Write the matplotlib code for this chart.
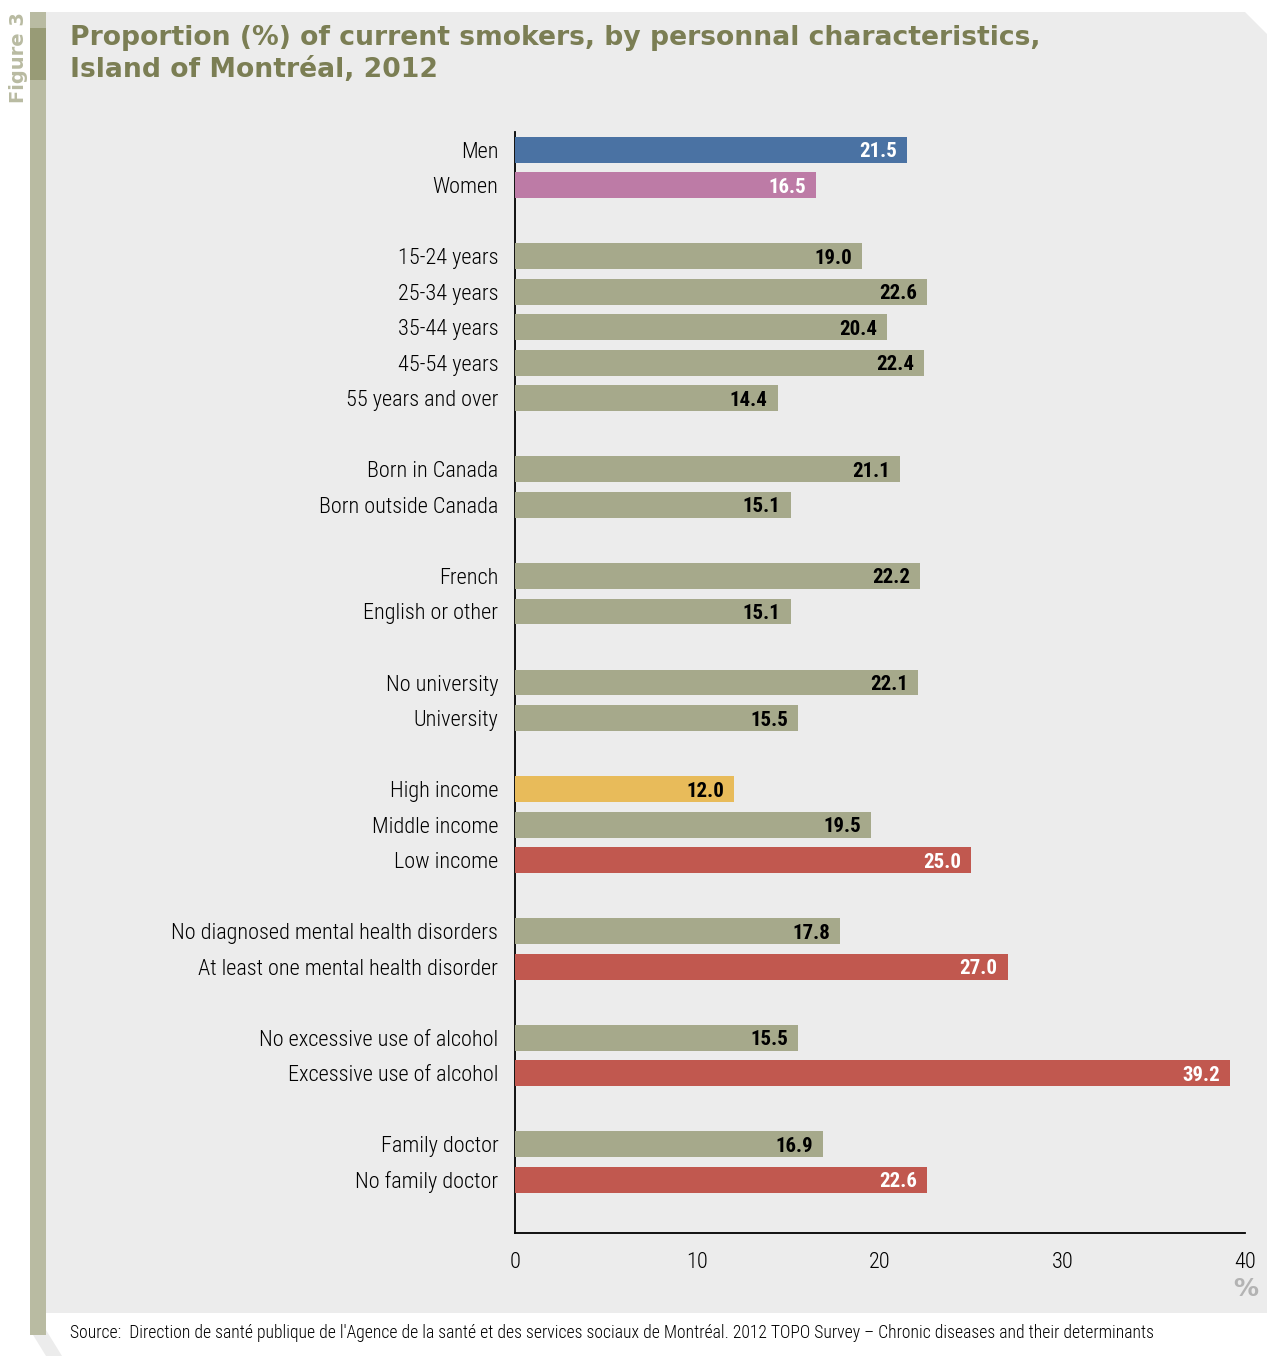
import matplotlib
matplotlib.use("Agg")
import matplotlib.pyplot as plt
from matplotlib import font_manager
from matplotlib.patches import Polygon, Rectangle

# Data
categories = [
    "Men", "Women",
    "15-24 years", "25-34 years", "35-44 years", "45-54 years", "55 years and over",
    "Born in Canada", "Born outside Canada",
    "French", "English or other",
    "No university", "University",
    "High income", "Middle income", "Low income",
    "No diagnosed mental health disorders", "At least one mental health disorder",
    "No excessive use of alcohol", "Excessive use of alcohol",
    "Family doctor", "No family doctor",
]
values = [
    21.5, 16.5,
    19.0, 22.6, 20.4, 22.4, 14.4,
    21.1, 15.1,
    22.2, 15.1,
    22.1, 15.5,
    12.0, 19.5, 25.0,
    17.8, 27.0,
    15.5, 39.2,
    16.9, 22.6,
]
group_sizes = [2, 5, 2, 2, 2, 3, 2, 2, 2]
bar_kinds = [
    "blue", "pink",
    "olive", "olive", "olive", "olive", "olive",
    "olive", "olive",
    "olive", "olive",
    "olive", "olive",
    "yellow", "olive", "red",
    "olive", "red",
    "olive", "red",
    "olive", "red",
]
x_ticks = [0, 10, 20, 30, 40]

colors = {
    "blue": "#4a72a3",
    "pink": "#bd7ba6",
    "olive": "#a6a98b",
    "yellow": "#e8bb5a",
    "red": "#c1584f",
}
label_colors = {"blue": "white", "pink": "white", "red": "white",
                "olive": "black", "yellow": "black"}

# pick a narrow font if one is installed
fonts = font_manager.fontManager.ttflist
names = {f.name for f in fonts}
narrow_kw = {"family": ["Roboto", "DejaVu Sans"]}
for cand in ["Liberation Sans Narrow", "Roboto Condensed", "Open Sans Condensed"]:
    if cand in names:
        narrow_kw = {"family": [cand, "DejaVu Sans"]}
        break
else:
    if any(f.name == "DejaVu Sans" and f.stretch == "condensed" for f in fonts):
        narrow_kw = {"family": ["DejaVu Sans"], "fontstretch": "condensed"}

# positions: one empty slot between groups
positions = []
slot = 0
for size in group_sizes:
    for i in range(size):
        positions.append(slot)
        slot += 1
    slot += 1

W, H = 1267, 1356
fig = plt.figure(figsize=(W / 100, H / 100), dpi=100)
fig.patch.set_facecolor("white")


def fx(x):
    return x / W


def fy(y):
    return 1 - y / H


# background panel with clipped corner
panel = Polygon(
    [(fx(30), fy(12)), (fx(1245), fy(12)), (fx(1267), fy(34)),
     (fx(1267), fy(1313)), (fx(30), fy(1313))],
    closed=True, transform=fig.transFigure, facecolor="#ececec", edgecolor="none", zorder=-3)
fig.patches.append(panel)
shadow = Polygon(
    [(fx(30), fy(1330)), (fx(46), fy(1330)), (fx(62), fy(1356)), (fx(46), fy(1356))],
    closed=True, transform=fig.transFigure, facecolor="#ececec", edgecolor="none", zorder=-3)
fig.patches.append(shadow)
strip = Polygon(
    [(fx(30), fy(12)), (fx(46), fy(12)), (fx(46), fy(1335)), (fx(30), fy(1335))],
    closed=True, transform=fig.transFigure, facecolor="#b9bba2", edgecolor="none", zorder=-2)
fig.patches.append(strip)
fig.patches.append(Rectangle((fx(30), fy(80)), fx(16), 52 / H, transform=fig.transFigure,
                             facecolor="#989b76", edgecolor="none", zorder=-1))

fig.text(fx(19), fy(58), "Figure 3", rotation=90, ha="center", va="center",
         fontsize=14, fontweight="bold", color="#b9bba2", family="DejaVu Sans")

title_font = "DejaVu Sans"
fig.text(fx(70), fy(38), "Proportion (%) of current smokers, by personnal characteristics,",
         ha="left", va="center", fontsize=19.2, fontweight="bold", color="#7b7e54",
         family=title_font)
fig.text(fx(70), fy(70), "Island of Montréal, 2012",
         ha="left", va="center", fontsize=19.2, fontweight="bold", color="#7b7e54",
         family=title_font)

ax = fig.add_axes([fx(515), 1 - 1233 / H, 730 / W, 1101 / H])
ax.set_zorder(5)
ax.set_facecolor("none")
ax.barh(positions, values, height=0.73,
        color=[colors[k] for k in bar_kinds], zorder=3)

for pos, val, kind in zip(positions, values, bar_kinds):
    ax.text(val - 0.55, pos, f"{val:.1f}", ha="right", va="center_baseline",
            fontsize=15, fontweight="bold", color=label_colors[kind],
            zorder=4, **narrow_kw)

ax.set_xlim(0, 40)
ax.set_ylim(positions[-1] + 1.5, -0.5)
ax.set_yticks(positions)
ax.set_yticklabels(categories, fontsize=16, fontweight="light", **narrow_kw)
ax.set_xticks(x_ticks)
ax.set_xticklabels([str(t) for t in x_ticks], fontsize=16, fontweight="light", **narrow_kw)
ax.tick_params(axis="both", length=0)
ax.tick_params(axis="y", pad=12)
ax.tick_params(axis="x", pad=14)

for side in ["top", "right"]:
    ax.spines[side].set_visible(False)
for side in ["left", "bottom"]:
    ax.spines[side].set_color("black")
    ax.spines[side].set_linewidth(1.3)

fig.text(fx(1246), fy(1289), "%", ha="center", va="center", fontsize=18,
         fontweight="bold", color="#b3b3b3", family="DejaVu Sans")

fig.text(fx(70), fy(1333),
         "Source:  Direction de santé publique de l'Agence de la santé et des services sociaux de Montréal. "
         "2012 TOPO Survey \u2013 Chronic diseases and their determinants",
         ha="left", va="center", fontsize=12.7, fontweight="light", color="black", **narrow_kw)

fig.savefig("out.png", dpi=100, facecolor="white")
